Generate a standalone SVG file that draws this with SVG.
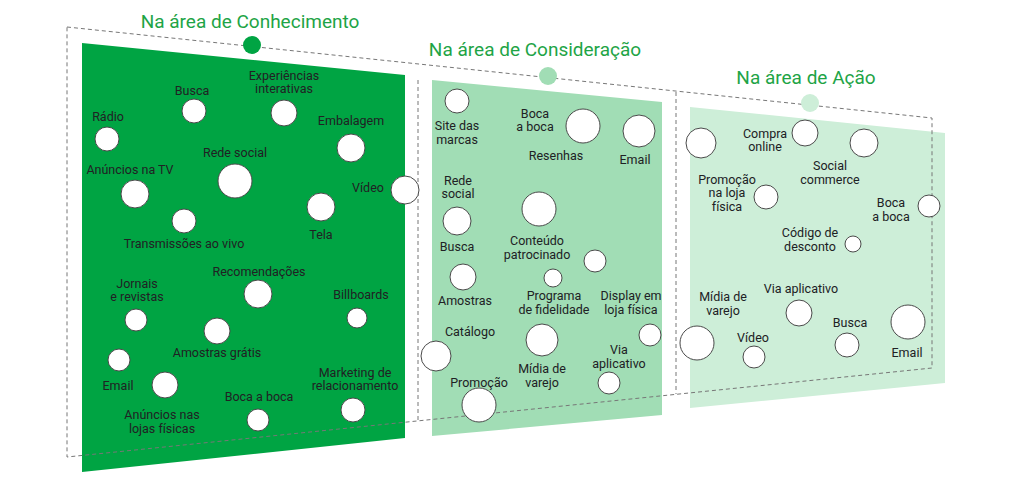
<svg xmlns="http://www.w3.org/2000/svg" width="1024" height="480" viewBox="0 0 1024 480">
<style>
text{font-family:Roboto,"Liberation Sans",sans-serif;font-size:12.5px;fill:#202124;text-anchor:middle}
.t{font-size:19px;fill:#1ea446}
.c{fill:#fff;stroke:#4a4a4a;stroke-width:1}
.d{fill:none;stroke:#777;stroke-width:1;stroke-dasharray:4 3}
</style>
<rect width="1024" height="480" fill="#fff"/>
<polygon points="82,43 405,75 405,438 82,472" fill="#00a443"/>
<polygon points="432,80 662,102 662,415 432,436" fill="#a1ddb5"/>
<polygon points="690,107 945,133 945,383 690,408" fill="#cdeed8"/>
<g id="connectors">
<polyline class="d" points="67,27 932,118 932,368 67,457 67,27"/>
<line class="d" x1="418" y1="80" x2="418" y2="421"/>
<line class="d" x1="676" y1="92" x2="676" y2="394"/>
</g>
<g id="titles">
<text class="t" x="250" y="28">Na área de Conhecimento</text>
<circle cx="252" cy="45" r="9" fill="#00a443"/>
<text class="t" x="535" y="56">Na área de Consideração</text>
<circle cx="548" cy="76" r="9" fill="#a1ddb5"/>
<text class="t" x="806" y="84">Na área de Ação</text>
<circle cx="810" cy="103" r="9" fill="#cdeed8"/>
</g>
<g id="n1">
<text x="192" y="95">Busca</text><circle class="c" cx="194" cy="111" r="12"/>
<text x="284" y="80">Experiências</text><text x="284" y="93">interativas</text><circle class="c" cx="284" cy="113" r="13"/>
<text x="108" y="121">Rádio</text><circle class="c" cx="107" cy="139" r="12"/>
<text x="351" y="125">Embalagem</text><circle class="c" cx="351" cy="148" r="14"/>
<text x="235" y="157">Rede social</text><circle class="c" cx="235" cy="181" r="17"/>
<text x="130" y="174">Anúncios na TV</text><circle class="c" cx="135" cy="194" r="14"/>
<text x="368" y="192">Vídeo</text><circle class="c" cx="405" cy="190" r="14"/>
<circle class="c" cx="184" cy="221" r="12"/><text x="184" y="248">Transmissões ao vivo</text>
<circle class="c" cx="321" cy="207" r="14"/><text x="321" y="239">Tela</text>
<text x="137" y="288">Jornais</text><text x="137" y="301">e revistas</text><circle class="c" cx="136" cy="320" r="11"/>
<text x="259" y="276">Recomendações</text><circle class="c" cx="258" cy="294" r="14"/>
<text x="361" y="299">Billboards</text><circle class="c" cx="357" cy="318" r="10"/>
<circle class="c" cx="217" cy="331" r="13"/><text x="217" y="357">Amostras grátis</text>
<circle class="c" cx="119" cy="360" r="11"/><text x="118" y="390">Email</text>
<circle class="c" cx="165" cy="385" r="13"/>
<text x="162" y="419">Anúncios nas</text><text x="162" y="433">lojas físicas</text>
<text x="259" y="401">Boca a boca</text><circle class="c" cx="258" cy="420" r="11"/>
<text x="355" y="377">Marketing de</text><text x="355" y="390">relacionamento</text><circle class="c" cx="353" cy="410" r="12"/>
</g>
<g id="n2">
<circle class="c" cx="457" cy="101" r="12"/><text x="457" y="130">Site das</text><text x="457" y="144">marcas</text>
<text x="535" y="118">Boca</text><text x="535" y="131">a boca</text><circle class="c" cx="583" cy="126" r="17"/>
<circle class="c" cx="639" cy="131" r="16"/><text x="635" y="164">Email</text>
<text x="556" y="160">Resenhas</text>
<text x="458" y="185">Rede</text><text x="458" y="198">social</text>
<circle class="c" cx="457" cy="221" r="14"/><text x="457" y="251">Busca</text>
<circle class="c" cx="539" cy="209" r="17"/><text x="537" y="245">Conteúdo</text><text x="537" y="259">patrocinado</text>
<circle class="c" cx="595" cy="261" r="11"/>
<circle class="c" cx="463" cy="277" r="13"/><text x="465" y="305">Amostras</text>
<circle class="c" cx="553" cy="278" r="9"/><text x="554" y="300">Programa</text><text x="554" y="314">de fidelidade</text>
<text x="631" y="300">Display em</text><text x="631" y="314">loja física</text>
<text x="470" y="336">Catálogo</text>
<circle class="c" cx="650" cy="335" r="11"/>
<circle class="c" cx="436" cy="356" r="15"/>
<circle class="c" cx="542" cy="340" r="16"/><text x="542" y="373">Mídia de</text><text x="542" y="387">varejo</text>
<text x="619" y="354">Via</text><text x="619" y="368">aplicativo</text><circle class="c" cx="609" cy="383" r="11"/>
<text x="479" y="387">Promoção</text><circle class="c" cx="479" cy="405" r="17"/>
</g>
<g id="n3">
<circle class="c" cx="701" cy="143" r="15"/>
<text x="765" y="138">Compra</text><text x="765" y="151">online</text><circle class="c" cx="805" cy="133" r="13"/>
<circle class="c" cx="864" cy="143" r="14"/>
<text x="830" y="170">Social</text><text x="830" y="184">commerce</text>
<text x="727" y="184">Promoção</text><text x="727" y="197">na loja</text><text x="727" y="211">física</text><circle class="c" cx="766" cy="197" r="12"/>
<text x="891" y="207">Boca</text><text x="891" y="221">a boca</text><circle class="c" cx="929" cy="206" r="11"/>
<text x="810" y="237">Código de</text><text x="810" y="251">desconto</text><circle class="c" cx="853" cy="244" r="8"/>
<text x="723" y="301">Mídia de</text><text x="723" y="315">varejo</text>
<text x="801" y="293">Via aplicativo</text><circle class="c" cx="799" cy="313" r="13"/>
<circle class="c" cx="697" cy="343" r="17"/>
<text x="753" y="342">Vídeo</text><circle class="c" cx="754" cy="357" r="11"/>
<text x="850" y="327">Busca</text><circle class="c" cx="847" cy="345" r="12"/>
<circle class="c" cx="908" cy="322" r="17"/><text x="907" y="357">Email</text>
</g>
</svg>
